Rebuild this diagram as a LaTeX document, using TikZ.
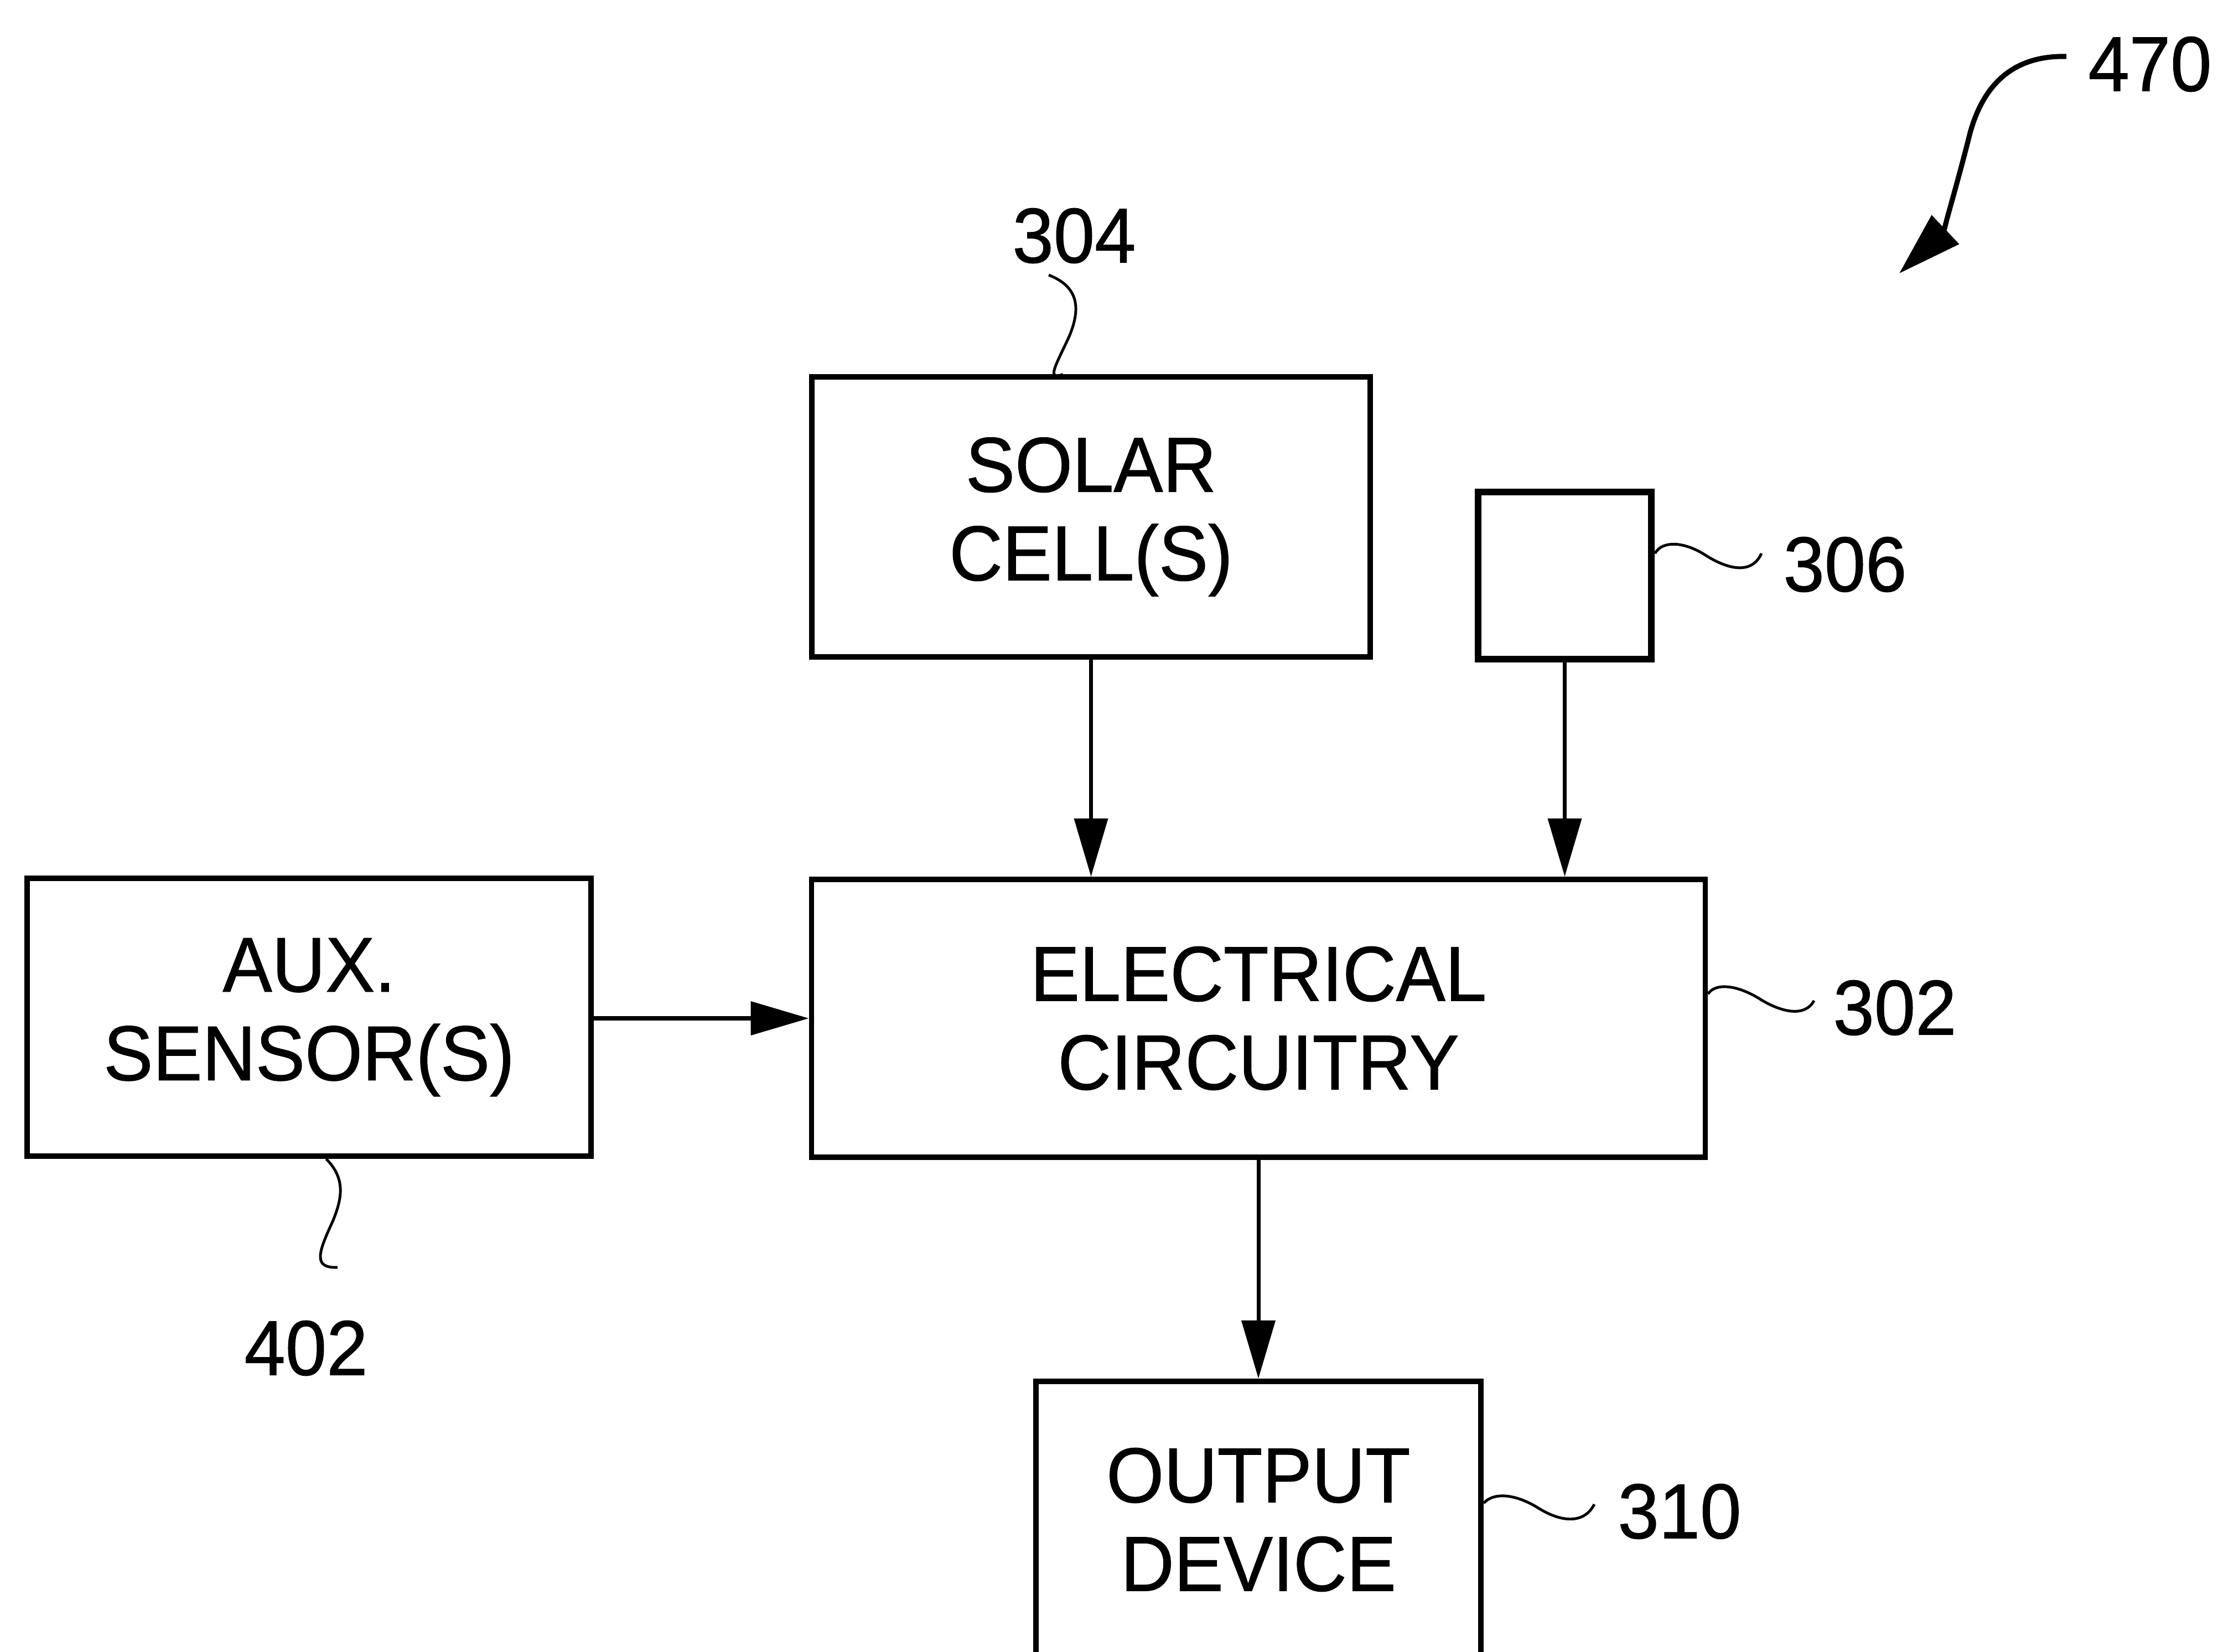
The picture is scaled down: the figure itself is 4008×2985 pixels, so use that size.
\documentclass[tikz,border=0pt]{standalone}
\usepackage{fontspec}
\setmainfont{Liberation Sans}[FakeStretch=0.95,FakeBold=0.8]
\usetikzlibrary{arrows.meta}
\begin{document}
\begin{tikzpicture}[x=0.01cm,y=-0.01cm,
  box/.style={draw, line width=2.8pt, inner sep=0pt, align=center, font=\fontsize{40}{45.5}\selectfont},
  lbl/.style={inner sep=0pt, font=\fontsize{40}{45.5}\selectfont},
  conn/.style={line width=2pt, -{Triangle[length=1.05cm,width=0.6cm]}},
  squig/.style={line width=1.4pt}]
\useasboundingbox (0,0) rectangle (4008,2985);
\clip (0,0) rectangle (4008,2985);
\fill[white] (0,0) rectangle (4008,2985);

% boxes
\node[box, minimum width=10.09cm, minimum height=5.05cm] (solar) at (1971.5,934) {SOLAR\\CELL(S)};
\node[box, line width=3.6pt, minimum width=3.13cm, minimum height=3.02cm] (src) at (2827.5,1040) {};
\node[box, minimum width=16.14cm, minimum height=5.02cm] (elec) at (2274,1840) {ELECTRICAL\\CIRCUITRY};
\node[box, minimum width=10.19cm, minimum height=5.02cm] (aux) at (558.5,1838) {AUX.\\SENSOR(S)};
\node[box, minimum width=8.04cm, minimum height=5.0cm] (out) at (2274,2746) {OUTPUT\\DEVICE};

% connectors
\draw[conn] (solar.south) -- (solar.south |- elec.north);
\draw[conn] (src.south) -- (src.south |- elec.north);
\draw[conn] (aux.east |- elec.west) -- (elec.west);
\draw[conn] (elec.south) -- (out.north);

% reference labels
\node[lbl] (l470) at (3885,116) {470};
\node[lbl] (l304) at (1941,426) {304};
\node[lbl] (l306) at (3334,1020) {306};
\node[lbl] (l302) at (3424,1821) {302};
\node[lbl] (l402) at (553,2436) {402};
\node[lbl] (l310) at (3035,2731) {310};

% leader squiggles
\coordinate (s304) at (1895,497);
\draw[squig] (s304) .. controls (1955,520) and (1950,565) .. (1932,608)
  .. controls (1908,660) and (1890,688) .. ([xshift=-0.51cm]solar.north);
\coordinate (s306) at (3183,1000);
\draw[squig] ([yshift=0.4cm]src.east) .. controls (3005,975) and (3045,980) .. (3080,1002)
  .. controls (3120,1028) and (3165,1040) .. (s306);
\coordinate (s302) at (3278,1808);
\draw[squig] ([yshift=0.44cm]elec.east) .. controls (3100,1775) and (3140,1780) .. (3180,1805)
  .. controls (3220,1830) and (3262,1838) .. (s302);
\coordinate (s310) at (2881,2718);
\draw[squig] ([yshift=0.3cm]out.east) .. controls (2700,2695) and (2740,2700) .. (2780,2725)
  .. controls (2820,2750) and (2862,2755) .. (s310);
\coordinate (s402) at (610,2290);
\draw[squig] ([xshift=0.31cm]aux.south) .. controls (625,2130) and (618,2165) .. (602,2205)
  .. controls (578,2258) and (562,2292) .. (s402);

% figure arrow
\coordinate (a470) at (3734,102);
\coordinate (t470) at (3432,494);
\draw[line width=2.6pt, -{Triangle[length=1.15cm,width=0.7cm]}] (a470)
  .. controls (3640,100) and (3585,150) .. (3560,240)
  .. controls (3535,340) and (3510,420) .. (t470);
\end{tikzpicture}
\end{document}
